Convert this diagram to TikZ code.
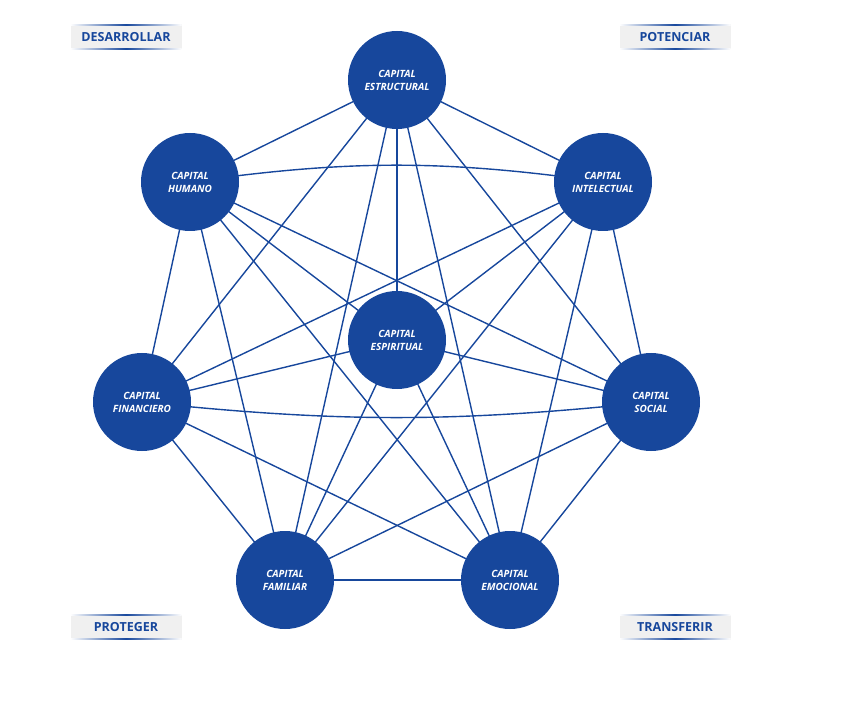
\documentclass[tikz,border=0pt]{standalone}
\usepackage{fontspec}
\setmainfont{Open Sans}
\definecolor{cb}{HTML}{17479C}
\pgfdeclarelayer{bg}\pgfsetlayers{bg,main}
\begin{document}
\begin{tikzpicture}[x=1pt,y=-1pt,
  capn/.style={circle,fill=cb,minimum size=98pt,inner sep=0pt,text=white,font=\bfseries\itshape\fontsize{10}{13}\selectfont,align=center},
  lk/.style={draw=cb,line width=1.4pt},
  tag/.style={fill=black!6,minimum width=111pt,minimum height=25pt,inner sep=0pt,text=cb,font=\bfseries\fontsize{12.5}{14}\selectfont}]
\useasboundingbox (0,0) rectangle (843,708);
\node[capn] (es) at (397,80) {CAPITAL\\ESTRUCTURAL};
\node[capn] (hu) at (190,182) {CAPITAL\\HUMANO};
\node[capn] (in) at (603,182) {CAPITAL\\INTELECTUAL};
\node[capn] (sp) at (397,340) {CAPITAL\\ESPIRITUAL};
\node[capn] (fi) at (142,402) {CAPITAL\\FINANCIERO};
\node[capn] (so) at (651,402) {CAPITAL\\SOCIAL};
\node[capn] (fa) at (285,580) {CAPITAL\\FAMILIAR};
\node[capn] (em) at (510,580) {CAPITAL\\EMOCIONAL};
\begin{pgfonlayer}{bg}
\foreach \a/\b in {es/hu,es/in,es/sp,es/fi,es/so,es/fa,es/em,
 hu/sp,hu/fi,hu/so,hu/fa,hu/em,
 in/sp,in/fi,in/so,in/fa,in/em,
 sp/fi,sp/so,sp/fa,sp/em,
 fi/fa,fi/em,so/fa,so/em,fa/em}
 \draw[lk] (\a.center) -- (\b.center);
\draw[lk] (hu.center) to[bend left=8] (in.center);
\draw[lk] (fi.center) to[bend right=6] (so.center);
\end{pgfonlayer}
\foreach \n/\t/\x/\y in {d/DESARROLLAR/126/37,p/POTENCIAR/675/37,r/PROTEGER/126/627,t/TRANSFERIR/675/627}{
 \node[tag] (\n) at (\x,\y) {\t};
 \shade[left color=white,right color=white,middle color=cb] (\n.north west) rectangle ([yshift=-1.5pt]\n.north east);
 \shade[left color=white,right color=white,middle color=cb] (\n.south west) rectangle ([yshift=1.5pt]\n.south east);
}
\end{tikzpicture}
\end{document}
